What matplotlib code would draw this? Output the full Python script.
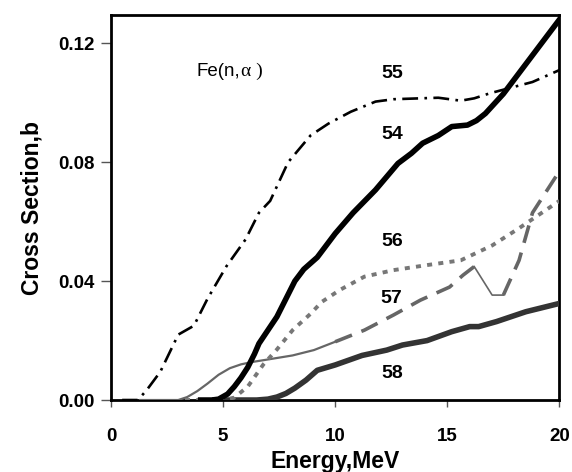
import matplotlib
matplotlib.use("Agg")
import matplotlib.pyplot as plt
import numpy as np

# ---- data ----
e54 = [4.0, 4.5, 4.8, 5.2, 5.5, 5.8, 6.1, 6.4, 6.6, 7.0, 7.4, 7.8, 8.2, 8.6, 9.2, 9.6, 10.0, 10.8, 11.8, 12.8, 13.4, 13.9, 14.6, 15.2, 15.9, 16.3, 16.7, 17.5, 18.5, 20.0]
s54 = [0.0, 0.0, 0.0003, 0.002, 0.0045, 0.0075, 0.011, 0.0155, 0.019, 0.0235, 0.028, 0.034, 0.040, 0.044, 0.048, 0.052, 0.056, 0.063, 0.0707, 0.0796, 0.083, 0.0864, 0.089, 0.092, 0.0925, 0.094, 0.0964, 0.103, 0.113, 0.128]

e55 = [0.5, 1.2, 1.6, 2.2, 3.0, 3.7, 4.3, 5.15, 6.0, 6.6, 7.1, 7.9, 8.9, 9.7, 10.7, 11.8, 12.6, 14.6, 15.6, 16.2, 16.9, 17.8, 18.8, 20.0]
s55 = [0.0, 0.0, 0.0034, 0.0095, 0.022, 0.025, 0.034, 0.045, 0.054, 0.063, 0.067, 0.080, 0.089, 0.093, 0.097, 0.1004, 0.1012, 0.1017, 0.1007, 0.1015, 0.1032, 0.105, 0.107, 0.111]

e56 = [3.3, 5.0, 5.5, 6.1, 6.8, 7.4, 8.1, 8.9, 9.4, 10.2, 11.3, 12.6, 14.1, 15.6, 17.0, 18.2, 20.0]
s56 = [0.0, 0.0, 0.0008, 0.0045, 0.012, 0.017, 0.0235, 0.029, 0.033, 0.037, 0.0415, 0.0437, 0.0454, 0.047, 0.052, 0.0578, 0.067]

e57 = [1.3, 3.0, 3.4, 3.85, 4.3, 4.8, 5.3, 5.8, 6.3, 6.8, 8.1, 9.05, 10.0, 11.3, 12.6, 13.8, 15.1, 15.7, 16.2, 17.0, 17.5, 18.2, 18.8, 20.0]
s57 = [0.0, 0.0, 0.001, 0.003, 0.0055, 0.0085, 0.0107, 0.012, 0.0128, 0.0134, 0.015, 0.0168, 0.0196, 0.0235, 0.0286, 0.0336, 0.038, 0.042, 0.0449, 0.0353, 0.0353, 0.047, 0.063, 0.077]

e58 = [4.5, 6.5, 7.0, 7.4, 7.8, 8.2, 8.7, 9.2, 10.0, 11.2, 12.3, 13.0, 14.1, 15.2, 16.0, 16.4, 17.2, 18.5, 20.0]
s58 = [0.0, 0.0, 0.0003, 0.001, 0.0022, 0.004, 0.0067, 0.010, 0.0118, 0.015, 0.0168, 0.0185, 0.020, 0.023, 0.0247, 0.0247, 0.0264, 0.0297, 0.0325]

curve_labels = ["55", "54", "56", "57", "58"]
label_x = [12.55, 12.55, 12.55, 12.5, 12.55]
label_y = [0.1100, 0.0892, 0.0533, 0.0342, 0.0090]

x_ticks = [0, 5, 10, 15, 20]
y_ticks = [0.00, 0.04, 0.08, 0.12]

# ---- figure ----
fig = plt.figure(figsize=(5.72, 4.72), dpi=100)
ax = fig.add_axes([0.194, 0.1525, 0.784, 0.8155])

# 58 dark gray thick solid
ax.plot(e58, s58, color="#333333", lw=4.0, solid_capstyle="butt", zorder=3)
# 57 thin gray solid segments + dashed segments
i10 = e57.index(10.0)
i162 = e57.index(16.2)
i175 = e57.index(17.5)
ax.plot(e57[:i10 + 1], s57[:i10 + 1], color="#666666", lw=1.6, zorder=4)
ax.plot(e57[i10:i162 + 1], s57[i10:i162 + 1], color="#666666", lw=2.6, dashes=(5, 2.8), zorder=4)
ax.plot(e57[i162:i175 + 1], s57[i162:i175 + 1], color="#666666", lw=1.2, zorder=4)
ax.plot(e57[i175:], s57[i175:], color="#666666", lw=2.6, dashes=(5, 2.8), zorder=4)
# 56 gray dotted
ax.plot(e56, s56, color="#777777", lw=2.8, dashes=(1.3, 1.6), zorder=4)
# 55 black dash-dot
ax.plot(e55, s55, color="black", lw=1.9, dashes=(6, 2.4, 1, 2.4), zorder=5)
# 54 black thick solid
ax.plot(e54, s54, color="black", lw=4.0, zorder=6)

for t, x, y in zip(curve_labels, label_x, label_y):
    ax.text(x, y, t, fontsize=14, fontweight="bold", family="Liberation Sans",
            ha="center", va="center", zorder=7)

ax.text(5.75, 0.1105, "Fe(n,", fontsize=13.5, family="Liberation Sans",
        ha="right", va="center")
ax.text(5.8, 0.1105, "\u03b1 )", fontsize=14, family="Liberation Serif",
        ha="left", va="center")

ax.set_xlim(0, 20)
ax.set_ylim(0, 0.1295)
ax.set_xticks(x_ticks)
ax.set_yticks(y_ticks)
ax.set_xticklabels([str(v) for v in x_ticks])
ax.set_yticklabels([f"{v:.2f}" for v in y_ticks])
for lab in ax.get_xticklabels() + ax.get_yticklabels():
    lab.set_fontweight("bold")
    lab.set_fontsize(13.5)
    lab.set_family("Liberation Sans")
ax.tick_params(axis="x", direction="out", length=5, width=1, color="#555555", pad=15)
ax.tick_params(axis="y", direction="out", length=7, width=1, color="#555555", pad=5)
for sp in ax.spines.values():
    sp.set_linewidth(2.0)
    sp.set_color("black")

ax.set_xlabel("Energy,MeV", fontsize=16.5, fontweight="bold", family="Liberation Sans", labelpad=4)
ax.set_ylabel("Cross Section,b", fontsize=16.5, fontweight="bold", family="Liberation Sans", labelpad=10)

fig.savefig("out.png", dpi=100)
